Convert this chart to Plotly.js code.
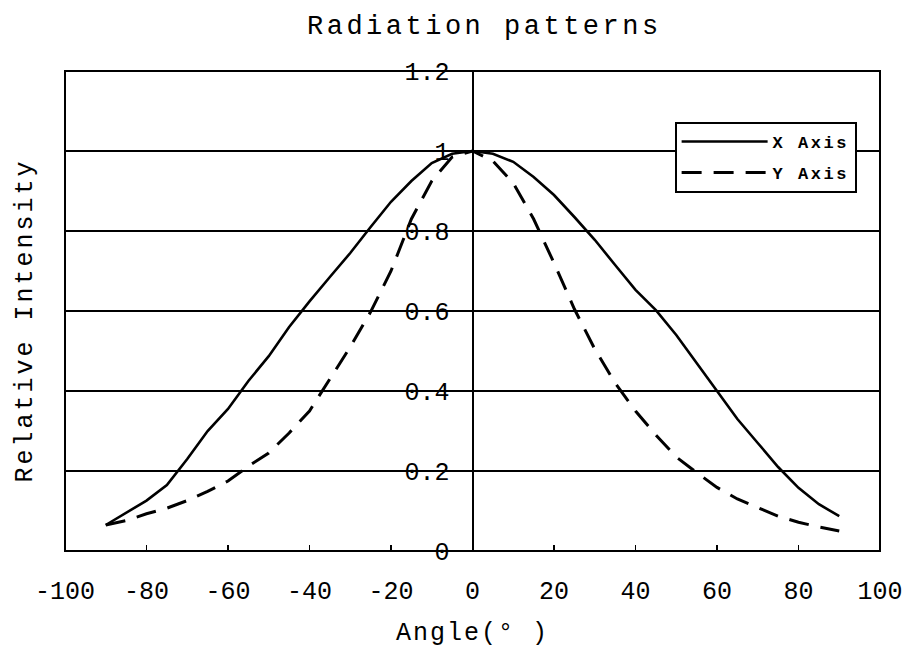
<!DOCTYPE html>
<html>
<head>
<meta charset="utf-8">
<script src="https://cdn.plot.ly/plotly-3.0.1.min.js"></script>
<style>
html, body { margin: 0; padding: 0; background: #fff; }
#chart { width: 907px; height: 652px; }
.gtitle { letter-spacing: 3.5px; }
.xtitle { letter-spacing: 2px; }
.annotation-text { letter-spacing: 3px; }
.legendtext { letter-spacing: 2.5px; }
</style>
</head>
<body>
<div id="chart"></div>
<script>
const chartTitle = "Radiation patterns";
const xTitle = "Angle(° )";
const yTitle = "Relative Intensity";
const seriesNames = ["X Axis", "Y Axis"];

const angles = [-90, -85, -80, -75, -70, -65, -60, -55, -50, -45, -40, -35, -30, -25, -20, -15, -10, -5, 0,
                5, 10, 15, 20, 25, 30, 35, 40, 45, 50, 55, 60, 65, 70, 75, 80, 85, 90];

const xAxisIntensity = [0.065, 0.095, 0.126, 0.165, 0.23, 0.30, 0.355, 0.425, 0.487, 0.56, 0.624, 0.685, 0.745, 0.81, 0.873, 0.925, 0.97, 0.993, 1.0,
                        0.993, 0.973, 0.935, 0.89, 0.835, 0.778, 0.715, 0.653, 0.602, 0.54, 0.47, 0.40, 0.33, 0.27, 0.21, 0.158, 0.117, 0.087];

const yAxisIntensity = [0.065, 0.076, 0.093, 0.107, 0.126, 0.149, 0.175, 0.212, 0.245, 0.295, 0.35, 0.43, 0.51, 0.598, 0.70, 0.83, 0.925, 0.985, 1.0,
                        0.975, 0.92, 0.83, 0.72, 0.605, 0.505, 0.42, 0.35, 0.29, 0.235, 0.196, 0.159, 0.13, 0.108, 0.087, 0.072, 0.06, 0.05];

const xTickVals = [-100, -80, -60, -40, -20, 0, 20, 40, 60, 80, 100];
const xTickText = ["-100", "-80", "-60", "-40", "-20", "0", "20", "40", "60", "80", "100"];
const yTickVals = [0, 0.2, 0.4, 0.6, 0.8, 1, 1.2];
const yTickText = ["0", "0.2", "0.4", "0.6", "0.8", "1", "1.2"];

const FONT = "Liberation Mono, DejaVu Sans Mono, monospace";

const traces = [
  {
    x: angles, y: xAxisIntensity, name: seriesNames[0], type: "scatter", mode: "lines",
    line: { color: "#000", width: 2.6 }, legendgroup: "a"
  },
  {
    x: angles, y: yAxisIntensity, name: seriesNames[1], type: "scatter", mode: "lines",
    line: { color: "#000", width: 3, dash: "20px,12px" }, legendgroup: "b"
  }
];

const layout = {
  width: 907, height: 652,
  paper_bgcolor: "#fff", plot_bgcolor: "#fff",
  margin: { l: 65, r: 27, t: 71, b: 101, pad: 0 },
  font: { family: FONT, color: "#000", size: 25 },
  title: { text: chartTitle, x: 0.534, xref: "container", xanchor: "center", y: 0.962, yanchor: "middle",
           font: { family: FONT, size: 27, color: "#000" } },
  xaxis: {
    range: [-100, 100], tickmode: "array", tickvals: xTickVals, ticktext: xTickText,
    ticks: "inside", ticklen: 6, tickwidth: 1.5, tickcolor: "#000",
    showgrid: false, zeroline: false, showline: false,
    tickfont: { family: FONT, size: 25, color: "#000" },
    ticklabelstandoff: 22,
    title: { text: xTitle, standoff: 16, font: { family: FONT, size: 25, color: "#000" } },
    fixedrange: true
  },
  yaxis: {
    range: [0, 1.2], tickmode: "array", tickvals: yTickVals, ticktext: yTickText,
    anchor: "free", position: 0.5,
    showline: true, linecolor: "#000", linewidth: 2,
    showgrid: true, gridcolor: "#000", gridwidth: 1.6,
    zeroline: false, ticks: "",
    tickfont: { family: FONT, size: 25, color: "#000" },
    ticklabelstandoff: 17,
    fixedrange: true
  },
  showlegend: true,
  legend: {
    x: 0.748, xanchor: "left", y: 0.894, yanchor: "top",
    bgcolor: "#fff", bordercolor: "#000", borderwidth: 2,
    font: { family: FONT, size: 17, color: "#000", weight: "bold" },
    itemwidth: 86, tracegroupgap: 6, traceorder: "grouped"
  },
  annotations: [
    { text: yTitle, xref: "paper", yref: "paper", x: -0.048, y: 0.48, xanchor: "center", yanchor: "middle",
      textangle: -90, showarrow: false, font: { family: FONT, size: 25, color: "#000" } }
  ],
  shapes: [
    { type: "rect", xref: "paper", yref: "paper", x0: 0, x1: 1, y0: 0, y1: 1,
      line: { color: "#000", width: 2 }, layer: "above" }
  ]
};

Plotly.newPlot("chart", traces, layout, { displayModeBar: false, staticPlot: true });
</script>
</body>
</html>
